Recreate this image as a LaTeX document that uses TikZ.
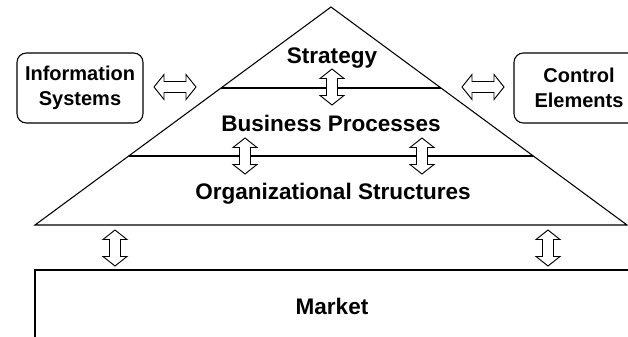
\documentclass[tikz,border=0pt]{standalone}
\usepackage{fontspec}
\setmainfont{Liberation Sans}
\usetikzlibrary{calc}
\begin{document}
\begin{tikzpicture}[x=0.75pt,y=-0.75pt,
  outline/.style={draw=black,line width=0.8pt},
  arr/.style={draw=black,line width=0.7pt,fill=white,line join=miter},
  lbl/.style={font=\fontsize{16.9}{20}\selectfont\bfseries,inner sep=0pt,anchor=base},
  sidebox/.style={draw=black,line width=0.8pt,rounded corners=7pt,
    font=\fontsize{15}{18.4}\selectfont\bfseries,align=center,
    minimum height=52.5pt,inner sep=0pt},
  varrow/.pic={\path[arr] (0,-18) -- (12,-8.5) -- (5.5,-8.5) -- (5.5,8.5) -- (12,8.5)
      -- (0,18) -- (-12,8.5) -- (-5.5,8.5) -- (-5.5,-8.5) -- (-12,-8.5) -- cycle;},
  harrow/.pic={\path[arr] (-21,0) -- (-11,-12.5) -- (-11,-5.5) -- (11,-5.5) -- (11,-12.5)
      -- (21,0) -- (11,12.5) -- (11,5.5) -- (-11,5.5) -- (-11,12.5) -- cycle;}
  ]
\useasboundingbox (0,0) rectangle (628,336);
\clip (0,0) rectangle (628,336);

% pyramid
\coordinate (apex) at (331,7);
\coordinate (bl) at (35,225);
\coordinate (br) at (627,225);
\draw[outline] (bl) -- (apex) -- (br) -- cycle;
\coordinate (l1a) at ($(apex)!0.3716!(bl)$);
\coordinate (l1b) at ($(apex)!0.3716!(br)$);
\coordinate (l2a) at ($(apex)!0.6835!(bl)$);
\coordinate (l2b) at ($(apex)!0.6835!(br)$);
\draw[outline] (l1a) -- (l1b);
\draw[outline] (l2a) -- (l2b);

% market
\draw[outline] (35,270) rectangle (700,400);
\node[lbl] (market) at (332,314) {Market};

% labels
\node[lbl] (strategy) at (332,63) {Strategy};
\node[lbl] (bp) at (331,131) {Business Processes};
\node[lbl] (os) at (333,199) {Organizational Structures};

% side boxes
\node[sidebox,minimum width=94.5pt] (is) at (80,88) {Information\\Systems};
\node[sidebox,minimum width=97.5pt] (ce) at (579,88) {Control\\Elements};

% arrows
\pic at (332,87) {varrow};
\pic at (245,156) {varrow};
\pic at (422,156) {varrow};
\pic at (115,248) {varrow};
\pic at (548,248) {varrow};
\pic at (175,87) {harrow};
\pic at (483,87) {harrow};
\end{tikzpicture}
\end{document}
